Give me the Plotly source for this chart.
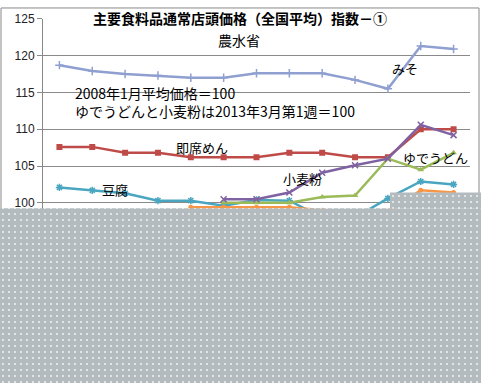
import plotly.graph_objects as go

W, H = 481, 383
OFF = 3  # small global vertical correction, in pixels

periods = [str(i) for i in range(1, 14)]
miso = [118.7, 117.9, 117.5, 117.3, 117.0, 117.0, 117.6, 117.6, 117.6, 116.7, 115.5, 121.3, 120.9]
sokuseki_men = [107.6, 107.6, 106.8, 106.8, 106.2, 106.2, 106.2, 106.8, 106.8, 106.2, 106.2, 110.0, 110.0]
tofu = [102.1, 101.7, 101.3, 100.3, 100.3, 99.6, 100.4, 100.3, 98.0, 98.0, 100.6, 102.9, 102.5]
yude_udon = [None, None, None, None, None, 100.0, 100.0, 100.0, 100.8, 101.0, 106.0, 104.5, 106.8]
komugiko = [None, None, None, None, None, 100.5, 100.5, 101.4, 104.1, 105.1, 106.0, 110.6, 109.2]
other = [None, None, None, None, 99.4, 99.4, 99.4, 99.4, 99.0, 98.8, 98.8, 101.7, 101.4]

y_ticks = [100, 105, 110, 115, 120, 125]

def px(x):
    return x / W

def py(y):
    return 1 - (y - OFF) / H

fig = go.Figure()

series = [
    ("みそ", miso, "#8E9FD0", dict(symbol="cross-thin-open", size=6, line=dict(width=1.5, color="#8E9FD0"))),
    ("即席めん", sokuseki_men, "#BE4B48", dict(symbol="square", size=6)),
    ("豆腐", tofu, "#4AA6C0", dict(symbol="asterisk-open", size=6, line=dict(width=1.5, color="#4AA6C0"))),
    ("ゆでうどん", yude_udon, "#9BBB59", dict(symbol="triangle-up", size=6)),
    ("小麦粉", komugiko, "#7F62A1", dict(symbol="x-thin-open", size=6, line=dict(width=1.5, color="#7F62A1"))),
    ("系列6", other, "#F79646", dict(symbol="circle", size=5)),
]
for name, vals, col, mk in series:
    fig.add_trace(go.Scatter(x=periods, y=vals, name=name, mode="lines+markers",
                             line=dict(color=col, width=2.5), marker=dict(color=col, **mk),
                             xaxis="x", yaxis="y", hoverinfo="skip"))

# grey dotted cover (as in the reference picture)
fig.add_trace(go.Bar(x=[W / 2, (390 + W) / 2], width=[W, W - 390],
                     base=[208 - OFF, 192 - OFF], y=[H - 208 + OFF + 10, 16],
                     xaxis="x2", yaxis="y2", hoverinfo="skip",
                     marker=dict(color="#b4bbbf", line=dict(width=0),
                                 pattern=dict(shape=".", fillmode="overlay", fgcolor="#f4f6f7",
                                              fgopacity=1, size=6, solidity=0.08))))

DY = 4
annos = [
    ("<b>主要食料品通常店頭価格（全国平均）指数－①</b>", 240, 18, 14, "center"),
    ("農水省", 239, 41, 14, "center"),
    ("2008年1月平均価格＝100<br>ゆでうどんと小麦粉は2013年3月第1週＝100", 73, 104, 14, "left"),
    ("みそ", 405, 70, 13, "center"),
    ("即席めん", 202, 150, 13, "center"),
    ("ゆでうどん", 435, 160, 13, "center"),
    ("小麦粉", 302, 182, 13, "center"),
    ("豆腐", 115, 193, 13, "center"),
]
for t, x, y, s, al in annos:
    fig.add_annotation(text=t, x=px(x), y=py(y - DY), xref="paper", yref="paper",
                       xanchor=al, yanchor="middle", align=al, showarrow=False,
                       font=dict(family="Noto Sans CJK JP", size=s, color="#000000"))

fig.add_shape(type="rect", xref="paper", yref="paper", x0=px(1), x1=px(479), y0=py(390), y1=py(1 + OFF),
              line=dict(color="#888888", width=1), layer="below")

fig.update_layout(
    width=W, height=H, margin=dict(l=0, r=0, t=0, b=0),
    paper_bgcolor="white", plot_bgcolor="rgba(0,0,0,0)", showlegend=False,
    xaxis=dict(domain=[px(43), px(470)], type="category", range=[-0.5, 12.5],
               showticklabels=False, showgrid=False, showline=True, linecolor="#888888",
               anchor="y", fixedrange=True),
    yaxis=dict(domain=[py(315), py(15)], range=[85, 125], tickvals=y_ticks,
               showgrid=True, gridcolor="#8a8a8a", gridwidth=1,
               showline=True, linecolor="#888888", ticks="outside", ticklen=5, tickcolor="#888888",
               tickfont=dict(family="Liberation Sans", size=12, color="#222222"),
               zeroline=False, anchor="x", fixedrange=True),
    xaxis2=dict(domain=[0, 1], range=[0, W], visible=False, anchor="y2", fixedrange=True),
    yaxis2=dict(domain=[0, 1], range=[H, 0], visible=False, anchor="x2", fixedrange=True),
)

fig.write_html("out.html", config={"displayModeBar": False},
               post_script="document.body.style.margin='0';")
